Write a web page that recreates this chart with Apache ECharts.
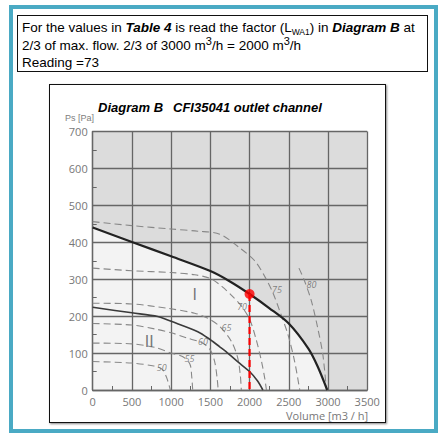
<!DOCTYPE html>
<html>
<head>
<meta charset="utf-8">
<script src="https://cdn.jsdelivr.net/npm/echarts@6/dist/echarts.min.js"></script>
<style>
  html, body { margin: 0; padding: 0; background: #fff; width: 438px; height: 439px; overflow: hidden; }
  #frame { position: absolute; left: 9px; top: 5px; width: 429px; height: 428px; box-sizing: border-box; border: 4.5px solid #4aaac4; }
  #hdr { position: absolute; left: 17px; top: 15px; width: 411px; height: 57px; box-sizing: border-box; border: 1.8px solid #111; padding: 3px 0 0 4px;
         font-family: "Liberation Sans", Arial, sans-serif; font-size: 13.5px; line-height: 17.5px; color: #000; }
  #hdr sup { font-size: 11px; line-height: 0; vertical-align: 5px; }
  #hdr sub { font-size: 8.5px; line-height: 0; vertical-align: -3px; }
  #box { position: absolute; left: 49px; top: 84px; width: 337px; height: 339px; box-sizing: border-box; border: 1.6px solid #111; box-shadow: 1px 1px 2px #888; }
  #c { position: absolute; left: 0; top: 0; width: 438px; height: 439px; z-index: 2; }
</style>
</head>
<body>
<div id="frame"></div>
<div id="hdr">For the values in <b><i>Table 4</i></b> is read the factor (L<sub>WA1</sub>) in <b><i>Diagram B</i></b> at<br>2/3 of max. flow. 2/3 of 3000 m<sup>3</sup>/h = 2000 m<sup>3</sup>/h<br>Reading =73</div>
<div id="box"></div>
<div id="c"></div>
<script>
// ---- data (volume m3/h, pressure Pa) ----
const curveI  = [[0,440],[500,401],[1000,362],[1500,322],[1750,294],[2000,260],[2250,222],[2500,180],[2750,112],[2870,63],[2990,0]];
const curveII = [[0,224],[500,209],[830,199],[1000,186],[1340,158],[1500,136],[1620,117],[1700,104],[1875,72],[2000,50],[2100,25],[2170,0]];
const iso50 = [[0,77],[500,73],[780,65],[880,57],[940,35],[990,0]];
const iso55 = [[0,127],[500,125],[800,115],[1000,100],[1150,90],[1240,70],[1262,38],[1275,0]];
const iso60 = [[0,180],[500,176],[800,165],[1000,155],[1200,141],[1400,127],[1500,108],[1555,77],[1585,35],[1600,0]];
const iso65 = [[0,235],[500,233],[960,221],[1300,208],[1470,194],[1620,172],[1770,131],[1850,86],[1882,40],[1895,0]];
const iso70 = [[0,330],[500,323],[1000,318],[1300,312],[1500,302],[1650,280],[1780,254],[1900,226],[2000,192],[2080,140],[2150,80],[2195,30],[2215,0]];
const iso75 = [[0,456],[500,445],[1000,436],[1340,430],[1620,422],[1874,385],[2066,350],[2200,305],[2300,262],[2400,205],[2490,150],[2575,77],[2640,0]];
const iso80 = [[2630,330],[2700,296],[2790,240],[2870,167],[2935,95],[2980,0]];
const isoLabels = [[880,62,'50'],[1235,84,'55'],[1405,131,'60'],[1705,168,'65'],[1905,225,'70'],[2350,272,'75'],[2790,286,'80']];
const regionLabels = [[1300,256,'I'],[720,131,'II']];
const readPoint = [2000,260];
const xTicks = [0,500,1000,1500,2000,2500,3000,3500];
const yTicks = [0,100,200,300,400,500,600,700];

const chart = echarts.init(document.getElementById('c'), null, {renderer: 'svg', width: 438, height: 439});

const isoStyle = {color: '#888', width: 1.1, type: [7, 4]};
const SM = 0.3;
function isoSeries(d) {
  return {type: 'line', data: d, showSymbol: false, symbol: 'none', smooth: SM,
          lineStyle: isoStyle, z: 11, silent: true};
}

const option = {
  backgroundColor: 'transparent',
  animation: false,
  title: {
    text: '{b|Diagram B}  {i|CFI35041 outlet channel}',
    left: 98, top: 98, padding: 0,
    textStyle: {
      rich: {
        b: {fontFamily: 'Liberation Sans', fontSize: 13, fontWeight: 'bold', fontStyle: 'italic', color: '#000'},
        i: {fontFamily: 'Liberation Sans', fontSize: 13, fontStyle: 'italic', color: '#000'}
      }
    }
  },
  grid: {left: 92.7, top: 131.5, width: 274.5, height: 258.5, containLabel: false},
  xAxis: {
    type: 'value', min: xTicks[0], max: xTicks[xTicks.length - 1], interval: 500, z: 10,
    axisLine: {show: true, lineStyle: {color: '#666', width: 1.3}},
    axisTick: {show: true, inside: true, length: 4, lineStyle: {color: '#666'}},
    minorTick: {show: true, splitNumber: 2, length: 4, lineStyle: {color: '#666', width: 1}},
    splitLine: {show: true, lineStyle: {color: '#666', width: 1.3}},
    axisLabel: {color: '#777', fontFamily: 'Open Sans', fontSize: 11, margin: 5, lineHeight: 12, formatter: v => String(v)}
  },
  yAxis: {
    type: 'value', min: yTicks[0], max: yTicks[yTicks.length - 1], interval: 100, z: 10,
    axisLine: {show: true, lineStyle: {color: '#666', width: 1.3}},
    axisTick: {show: true, inside: true, length: 4, lineStyle: {color: '#666'}},
    minorTick: {show: true, splitNumber: 2, length: 4, lineStyle: {color: '#666', width: 1}},
    splitLine: {show: true, lineStyle: {color: '#666', width: 1.3}},
    axisLabel: {color: '#777', fontFamily: 'Open Sans', fontSize: 11, margin: 5, formatter: v => String(v)}
  },
  graphic: [
    {type: 'text', left: 65, top: 113, style: {text: 'Ps [Pa]', fill: '#808080', font: '9px "Liberation Sans"'}},
    {type: 'text', left: 286, top: 410, style: {text: 'Volume [m3 / h]', fill: '#777', font: '11px "Open Sans"'}}
  ],
  series: [
    {type: 'line', data: [[0,700],[3500,700]], showSymbol: false, symbol: 'none', lineStyle: {width: 0, opacity: 0},
     areaStyle: {color: '#dcdcdc', opacity: 1}, z: 1, silent: true},
    {type: 'line', data: curveI, showSymbol: false, symbol: 'none', smooth: SM,
     lineStyle: {width: 0, opacity: 0}, areaStyle: {color: '#f3f3f3', opacity: 1}, z: 2, silent: true},
    isoSeries(iso50), isoSeries(iso55), isoSeries(iso60), isoSeries(iso65),
    isoSeries(iso70), isoSeries(iso75), isoSeries(iso80),
    {type: 'line', data: curveII, showSymbol: false, symbol: 'none', smooth: SM,
     lineStyle: {color: '#3a3a3a', width: 1.6}, z: 12, silent: true},
    {type: 'line', data: curveI, showSymbol: false, symbol: 'none', smooth: SM,
     lineStyle: {color: '#222', width: 2.2}, z: 12, silent: true},
    {type: 'line', data: [readPoint, [readPoint[0], 0]], showSymbol: false, symbol: 'none',
     lineStyle: {color: '#ff0000', width: 2.2, type: [7, 4]}, z: 20, silent: true},
    {type: 'scatter', data: [readPoint], symbol: 'circle', symbolSize: 10, itemStyle: {color: '#ff0000'}, z: 21, silent: true},
    {type: 'scatter', data: isoLabels, symbolSize: 0, z: 15, silent: true,
     label: {show: true, position: 'inside', formatter: p => p.data[2], color: '#666', fontSize: 9, fontStyle: 'italic', fontFamily: 'Open Sans'}},
    {type: 'scatter', data: regionLabels, symbolSize: 0, z: 15, silent: true,
     label: {show: true, position: 'inside', formatter: p => p.data[2], color: '#555', fontSize: 15, fontFamily: 'DejaVu Sans', fontWeight: 'normal'}}
  ]
};
chart.setOption(option);
</script>
</body>
</html>
